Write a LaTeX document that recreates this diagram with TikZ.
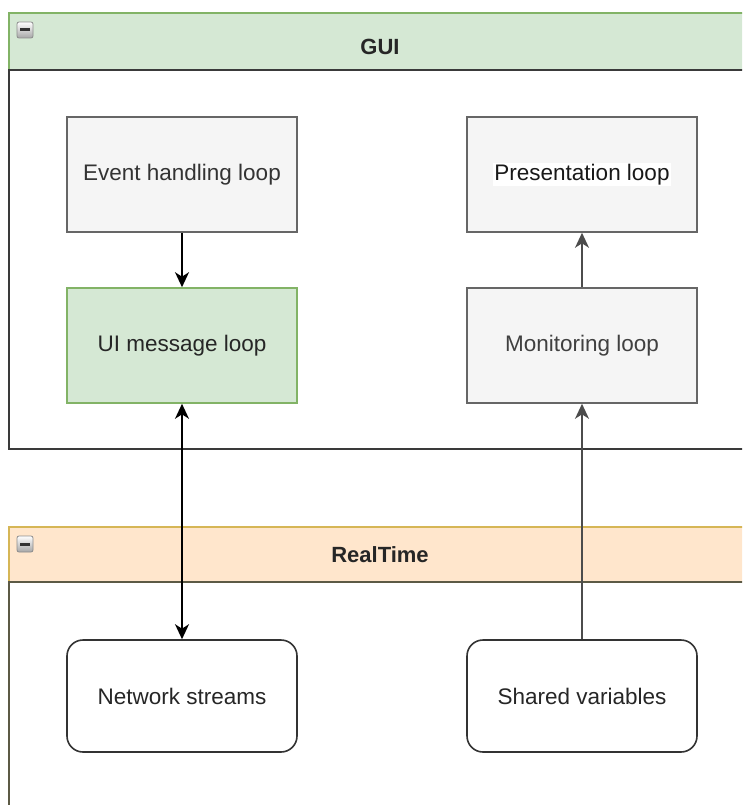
\documentclass[tikz,border=0pt]{standalone}
\usepackage{fontspec}
\setmainfont{Liberation Sans}
\usetikzlibrary{arrows.meta}

\definecolor{guifill}{HTML}{D5E8D4}
\definecolor{guiline}{HTML}{82B366}
\definecolor{rtfill}{HTML}{FFE6CC}
\definecolor{rtline}{HTML}{D6B656}
\definecolor{boxfill}{HTML}{F5F5F5}
\definecolor{boxline}{HTML}{666666}
\definecolor{textgray}{HTML}{333333}
\definecolor{guibody}{HTML}{3A3A3A}
\definecolor{rtbody}{HTML}{5C5A45}

\tikzset{
  labelfont/.style={font=\fontsize{22.5}{27}\selectfont},
  titlefont/.style={font=\fontsize{22}{27}\selectfont\bfseries},
  loopbox/.style={labelfont, draw=boxline, fill=boxfill, text=textgray,
    line width=1.6pt, minimum width=230pt, minimum height=115pt, inner sep=0pt},
  greenbox/.style={loopbox, draw=guiline, fill=guifill, text=black!85},
  roundbox/.style={labelfont, draw=black!80, fill=white, text=black!85,
    line width=1.6pt, rounded corners=16pt, minimum width=230pt,
    minimum height=112pt, inner sep=0pt},
  tip/.tip={Stealth[length=15pt,width=14pt,inset=4.5pt]},
  conn/.style={line width=1.8pt, black, -tip},
  connboth/.style={conn, tip-tip},
  conngray/.style={conn, draw=black!70, fill=black},
  lanetitle/.style={titlefont, text=black!85},
  collapseicon/.style={draw=black!45, line width=0.8pt, rounded corners=2pt,
    top color=white, bottom color=black!35},
}

\begin{document}
\begin{tikzpicture}[x=1pt, y=-1pt]
\useasboundingbox (0,0) rectangle (742,805);
\clip (0,0) rectangle (742,805);

% GUI lane: header band and body outline
\fill[guifill] (9,13) rectangle (770,70);
\draw[guiline, line width=1.6pt] (770,13) -- (9,13) -- (9,70);
\draw[guibody, line width=1.8pt] (770,70) -- (9,70) -- (9,449) -- (770,449);
\draw[collapseicon] (17,22) rectangle (33,38);
\fill[black!80] (20,28.5) rectangle (30,31.5);
\node[lanetitle] (guititle) at (380,47) {GUI};

% RealTime lane: header band and body outline
\fill[rtfill] (9,527) rectangle (770,582);
\draw[rtline, line width=1.6pt] (770,527) -- (9,527) -- (9,582);
\draw[rtbody, line width=1.8pt] (770,582) -- (9,582) -- (9,820);
\draw[collapseicon] (17,536) rectangle (33,552);
\fill[black!80] (20,542.5) rectangle (30,545.5);
\node[lanetitle] (rttitle) at (380,555) {RealTime};

% loops of the GUI
\node[loopbox] (ev) at (182,174.5) {Event handling loop};
\node[loopbox] (pres) at (582,174.5) {};
\node[labelfont, fill=white, text=black!90, inner sep=1.5pt] (preslabel) at (pres.center) {Presentation loop};
\node[greenbox] (ui) at (182,345.5) {UI message loop};
\node[loopbox, text=black!75] (mon) at (582,345.5) {Monitoring loop};

% RealTime endpoints
\node[roundbox] (net) at (182,696) {Network streams};
\node[roundbox] (shv) at (582,696) {Shared variables};

% connectors
\draw[conn] (ev) -- (ui);
\draw[connboth] (ui) -- (net);
\draw[conngray] (mon) -- (pres);
\draw[conngray] (shv) -- (mon);
\end{tikzpicture}
\end{document}
